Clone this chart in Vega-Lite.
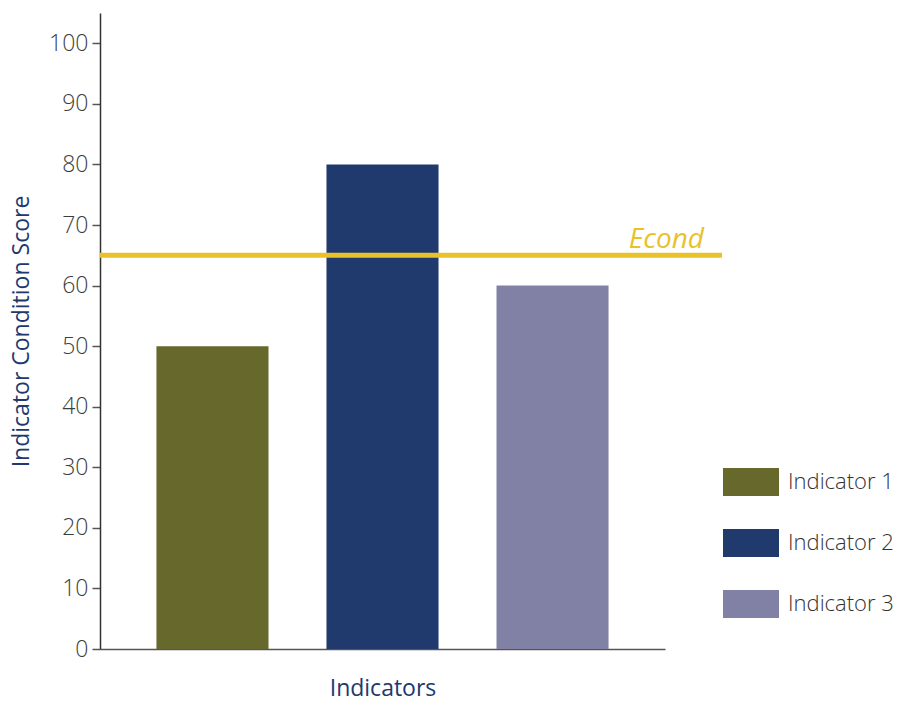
{
  "$schema": "https://vega.github.io/schema/vega-lite/v6.json",
  "width": 622,
  "height": 636,
  "autosize": {"type": "none"},
  "padding": {"left": 100, "top": 13, "right": 179, "bottom": 53},
  "background": "white",
  "config": {"view": {"stroke": null}, "font": "Open Sans"},
  "datasets": {
    "indicators": [
      {"indicator": "Indicator 1", "score": 50},
      {"indicator": "Indicator 2", "score": 80},
      {"indicator": "Indicator 3", "score": 60}
    ],
    "threshold": [
      {"label": "Econd", "value": 65}
    ]
  },
  "layer": [
    {
      "data": {"name": "indicators"},
      "mark": {"type": "bar"},
      "encoding": {
        "x": {
          "field": "indicator",
          "type": "nominal",
          "sort": null,
          "scale": {"range": [0, 565], "paddingInner": 0.341, "paddingOuter": 0.332},
          "axis": {
            "title": "Indicators",
            "labels": false,
            "ticks": false,
            "domainColor": "#555555",
            "domainWidth": 1.5,
            "titleColor": "#21386d",
            "titleFontSize": 23,
            "titleFontWeight": "normal",
            "titlePadding": 28
          }
        },
        "y": {
          "field": "score",
          "type": "quantitative",
          "scale": {"domain": [0, 105], "nice": false},
          "axis": {
            "title": "Indicator Condition Score",
            "values": [0, 5, 10, 15, 20, 25, 30, 35, 40, 45, 50, 55, 60, 65, 70, 75, 80, 85, 90, 95, 100],
            "labelExpr": "datum.value % 10 === 0 ? datum.label : ''",
            "grid": false,
            "tickSize": 8,
            "tickColor": "#555555",
            "tickWidth": 1.5,
            "labelPadding": 4,
            "labelFontSize": 23,
            "labelFontWeight": 300,
            "labelColor": "#3d3d3d",
            "domainColor": "#333333",
            "domainWidth": 1.5,
            "titleColor": "#21386d",
            "titleFontSize": 23,
            "titleFontWeight": "normal",
            "titlePadding": 15
          }
        },
        "color": {
          "field": "indicator",
          "type": "nominal",
          "scale": {
            "domain": ["Indicator 1", "Indicator 2", "Indicator 3"],
            "range": ["#67682b", "#213a6e", "#8181a6"]
          },
          "legend": {
            "title": null,
            "orient": "none",
            "legendX": 623,
            "legendY": 441,
            "symbolType": "M-1,-0.5H1V0.5H-1Z",
            "symbolSize": 3136,
            "symbolStrokeWidth": 0,
            "symbolOpacity": 1,
            "rowPadding": 19,
            "labelOffset": 9,
            "labelFontSize": 22,
            "labelFontWeight": 300,
            "labelColor": "#333333",
            "labelLimit": 300
          }
        }
      }
    },
    {
      "data": {"name": "threshold"},
      "mark": {"type": "rule", "color": "#e9c229", "strokeWidth": 5},
      "encoding": {
        "y": {"field": "value", "type": "quantitative"}
      }
    },
    {
      "data": {"name": "threshold"},
      "mark": {
        "type": "text",
        "color": "#e9c229",
        "fontSize": 28,
        "fontStyle": "italic",
        "align": "right",
        "baseline": "alphabetic",
        "dx": -18,
        "dy": -7
      },
      "encoding": {
        "x": {"value": "width"},
        "y": {"field": "value", "type": "quantitative"},
        "text": {"field": "label"}
      }
    }
  ]
}
